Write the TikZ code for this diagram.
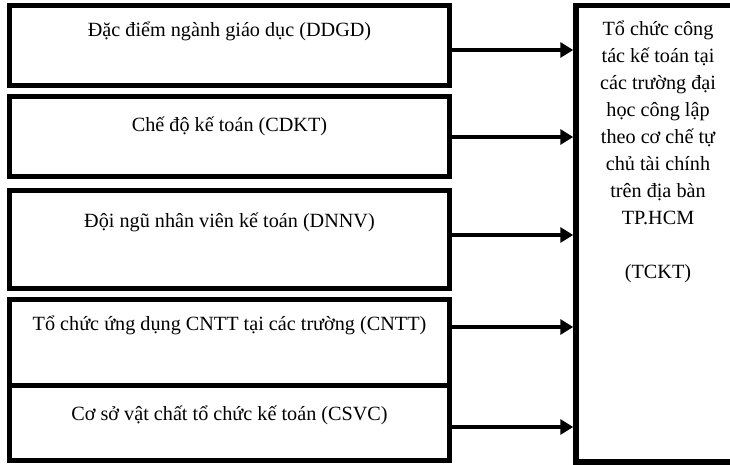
\documentclass[tikz,border=0pt]{standalone}
\usepackage{fontspec}
\setmainfont{Liberation Serif}
\usetikzlibrary{arrows.meta,positioning}

\begin{document}
\begin{tikzpicture}[x=1pt,y=-1pt,
  font=\fontsize{20.2}{27}\selectfont,
  factor/.style={draw,line width=5pt,minimum width=440pt,inner sep=0pt,anchor=base},
  target/.style={draw,line width=5.5pt,minimum width=164pt,inner sep=0pt,anchor=base,align=center},
  arr/.style={-{Triangle[length=13pt,width=15pt]},line width=3.5pt}]
\useasboundingbox (0,0) rectangle (730,465);
\node[factor,text height=31pt,text depth=48.5pt] (ddgd) at (229.5,37) {Đặc điểm ngành giáo dục (DDGD)};
\node[factor,text height=35pt,text depth=45pt] (cdkt) at (229.5,132) {Chế độ kế toán (CDKT)};
\node[factor,text height=36.5pt,text depth=61.5pt] (dnnv) at (229.5,227) {Đội ngũ nhân viên kế toán (DNNV)};
\node[factor,text height=30.5pt,text depth=55pt] (cntt) at (229.5,330) {Tổ chức ứng dụng CNTT tại các trường (CNTT)};
\node[factor,text height=35pt,text depth=40pt] (csvc) at (229.5,420) {Cơ sở vật chất tổ chức kế toán (CSVC)};
\node[target,text height=272.5pt,text depth=184pt] (tckt) at (658,278)
  {Tổ chức công\\tác kế toán tại\\các trường đại\\học công lập\\theo cơ chế tự\\chủ tài chính\\trên địa bàn\\TP.HCM\\[27pt](TCKT)};
\draw[arr] ([yshift=-4.25pt]ddgd.east) coordinate (a1) -- (a1 -| tckt.west);
\draw[arr] (cdkt.east) -- (cdkt.east -| tckt.west);
\draw[arr] ([yshift=4.5pt]dnnv.east) coordinate (a3) -- (a3 -| tckt.west);
\draw[arr] ([yshift=15.25pt]cntt.east) coordinate (a4) -- (a4 -| tckt.west);
\draw[arr] ([yshift=-4.5pt]csvc.east) coordinate (a5) -- (a5 -| tckt.west);
\end{tikzpicture}
\end{document}
